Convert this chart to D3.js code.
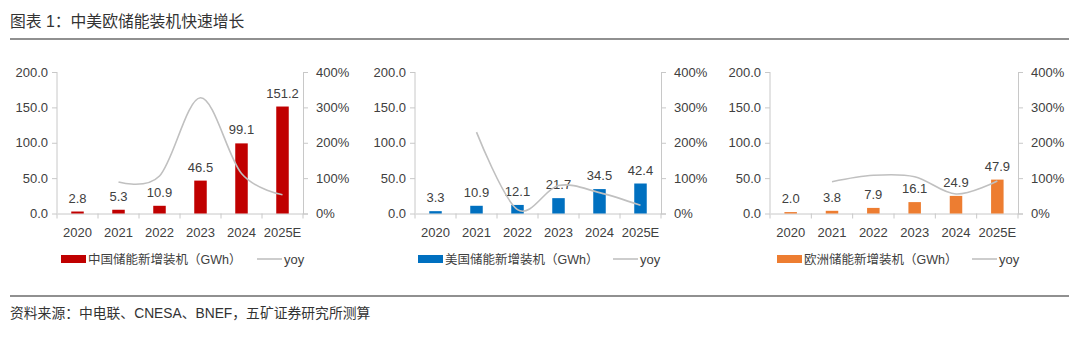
<!DOCTYPE html>
<html><head><meta charset="utf-8">
<script src="https://cdn.jsdelivr.net/npm/d3@7"></script>
<style>
body{margin:0;background:#fff;}
svg{display:block;}
</style></head>
<body><svg id="c" width="1080" height="337"></svg>
<script>
const categories = ["2020","2021","2022","2023","2024","2025E"];
const chinaValues = [2.8, 5.3, 10.9, 46.5, 99.1, 151.2];
const chinaYoy = [null, 0.89, 1.06, 3.27, 1.13, 0.53];
const usValues = [3.3, 10.9, 12.1, 21.7, 34.5, 42.4];
const usYoy = [null, 2.30, 0.11, 0.79, 0.59, 0.23];
const euValues = [2.0, 3.8, 7.9, 16.1, 24.9, 47.9];
const euYoy = [null, 0.90, 1.08, 1.04, 0.55, 0.92];
const leftTicks = [0, 50, 100, 150, 200];
const rightTicks = [0, 1, 2, 3, 4];
const titleText = "图表 1：中美欧储能装机快速增长";
const sourceText = "资料来源：中电联、CNESA、BNEF，五矿证券研究所测算";

const panels = [
  {values: chinaValues, yoy: chinaYoy, color: "#c00000", name: "中国储能新增装机（GWh）", x0: 57, x1: 303, legX: 61, lineX: 257},
  {values: usValues, yoy: usYoy, color: "#0070c0", name: "美国储能新增装机（GWh）", x0: 415, x1: 661, legX: 418, lineX: 613},
  {values: euValues, yoy: euYoy, color: "#ed7d31", name: "欧洲储能新增装机（GWh）", x0: 770, x1: 1018, legX: 777, lineX: 972}
];

const svg = d3.select("#c");
const numFont = "'Liberation Sans', Arial, sans-serif";
const cjkFont = "'Liberation Sans', Arial, 'Noto Sans CJK SC', sans-serif";
const textColor = "#404040";
const axisColor = "#c8c8c8";

svg.append("text").attr("x", 10).attr("y", 27).attr("font-family", cjkFont).attr("font-size", 15.8)
  .attr("fill", "#333").text(titleText);
svg.append("line").attr("x1", 10).attr("x2", 1069).attr("y1", 39).attr("y2", 39).attr("stroke", "#6b6b6b").attr("stroke-width", 1.5);
svg.append("line").attr("x1", 10).attr("x2", 1069).attr("y1", 296).attr("y2", 296).attr("stroke", "#6b6b6b").attr("stroke-width", 1.5);
svg.append("text").attr("x", 10).attr("y", 318).attr("font-family", cjkFont).attr("font-size", 13.8)
  .attr("fill", "#333").text(sourceText);

const yTop = 72, yBot = 213.5;

panels.forEach(p => {
  const g = svg.append("g");
  const x = d3.scaleBand().domain(categories).range([p.x0, p.x1]);
  const y = d3.scaleLinear().domain([0, 200]).range([yBot, yTop]);
  const y2 = d3.scaleLinear().domain([0, 4]).range([yBot, yTop]);

  const la = g.append("g").attr("transform", `translate(${p.x0},0)`)
    .call(d3.axisLeft(y).tickValues(leftTicks).tickFormat(d3.format(".1f")).tickSize(5).tickPadding(4));
  const ra = g.append("g").attr("transform", `translate(${p.x1},0)`)
    .call(d3.axisRight(y2).tickValues(rightTicks).tickFormat(d => Math.round(d*100) + "%").tickSize(5).tickPadding(8));
  const ba = g.append("g").attr("transform", `translate(0,${yBot})`)
    .call(d3.axisBottom(x).tickSize(0).tickPadding(14));
  [la, ra, ba].forEach(a => {
    a.selectAll("path,line").attr("stroke", axisColor);
    a.selectAll("text").attr("font-family", numFont).attr("font-size", 13).attr("fill", textColor);
  });
  la.select(".domain").remove();
  g.append("line").attr("x1", p.x0).attr("x2", p.x0).attr("y1", yTop).attr("y2", yBot).attr("stroke", axisColor);
  const bounds = categories.map(c => x(c)).concat([p.x1]);
  g.selectAll(".bt").data(bounds).join("line")
    .attr("x1", d => d).attr("x2", d => d).attr("y1", yBot).attr("y2", yBot + 5).attr("stroke", axisColor);

  const bw = 12.5;
  g.selectAll(".bar").data(p.values).join("rect")
    .attr("x", (d, i) => x(categories[i]) + x.bandwidth()/2 - bw/2)
    .attr("width", bw)
    .attr("y", d => y(d))
    .attr("height", d => yBot - y(d))
    .attr("fill", p.color);
  g.selectAll(".lbl").data(p.values).join("text")
    .attr("x", (d, i) => x(categories[i]) + x.bandwidth()/2)
    .attr("y", d => y(d) - 9)
    .attr("text-anchor", "middle")
    .attr("font-family", numFont).attr("font-size", 13).attr("fill", textColor)
    .text(d => d.toFixed(1));

  const pts = p.yoy.map((v, i) => [x(categories[i]) + x.bandwidth()/2, v]).filter(d => d[1] !== null);
  const line = d3.line().x(d => d[0]).y(d => y2(d[1])).curve(d3.curveCardinal.tension(0));
  g.append("path").datum(pts).attr("d", line).attr("fill", "none").attr("stroke", "#c0c0c0").attr("stroke-width", 1.6);

  const ly = 259;
  g.append("rect").attr("x", p.legX).attr("y", ly - 4).attr("width", 25).attr("height", 8).attr("fill", p.color);
  g.append("text").attr("x", p.legX + 27).attr("y", ly + 4.5).attr("font-family", cjkFont).attr("font-size", 12.5)
    .attr("fill", textColor).text(p.name);
  g.append("line").attr("x1", p.lineX).attr("x2", p.lineX + 25).attr("y1", ly).attr("y2", ly).attr("stroke", "#c0c0c0").attr("stroke-width", 1.6);
  g.append("text").attr("x", p.lineX + 27).attr("y", ly + 4.5).attr("font-family", numFont).attr("font-size", 13)
    .attr("fill", textColor).text("yoy");
});
</script></body></html>
